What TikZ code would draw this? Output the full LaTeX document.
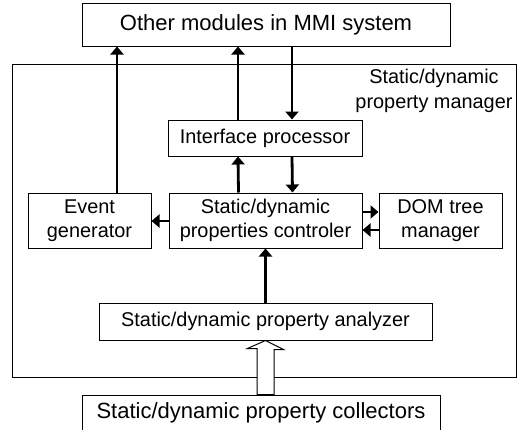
\documentclass[tikz,border=0pt]{standalone}
\usepackage{fontspec}
\setmainfont{Liberation Sans}
\usetikzlibrary{arrows.meta,calc}

\tikzset{
  box/.style={draw=black, line width=1pt, inner sep=0pt, align=center,
              font=\fontsize{19.9}{23.5}\selectfont},
  bigbox/.style={box, font=\fontsize{22}{25}\selectfont},
  arr/.style={line width=2.8pt, -{Triangle[width=13pt,length=8pt]}},
  hollow/.style={draw=black, line width=1pt, fill=white}
}

\begin{document}
\begin{tikzpicture}[x=1pt, y=-1pt]
  \useasboundingbox (0,0) rectangle (520,429);

  % outer container and its label
  \node[box, minimum width=504pt, minimum height=313pt] (mgr) at (264,220.5) {};
  \node[align=center, inner sep=0pt, font=\fontsize{19.9}{25.5}\selectfont]
       (mgrlabel) at (434,91) {Static/dynamic\\property manager};

  % boxes
  \node[bigbox, minimum width=368pt, minimum height=43pt] (top) at (266,24.5)
       {Other modules in MMI system};
  \node[box, minimum width=194pt, minimum height=36pt] (ip) at (265,138)
       {Interface processor};
  \node[box, minimum width=123pt, minimum height=55pt] (ev) at (89.5,220.5)
       {Event\\generator};
  \node[box, minimum width=193pt, minimum height=55pt] (ctl) at (265.5,220.5)
       {Static/dynamic\\properties controler};
  \node[box, minimum width=123pt, minimum height=55pt] (dom) at (440.5,220.5)
       {DOM tree\\manager};
  \node[box, minimum width=333pt, minimum height=37pt] (an) at (265.5,321.5)
       {Static/dynamic property analyzer};
  \node[bigbox, minimum width=358pt, minimum height=36pt] (co) at (261,413)
       {Static/dynamic property collectors};

  % connectors
  \draw[arr] ([xshift=27.5pt]ev.north) -- ([xshift=27.5pt]ev.north |- top.south);
  \draw[arr] ([xshift=-27pt]ip.north) -- ([xshift=-27pt]ip.north |- top.south);
  \draw[arr] ([xshift=27pt]ip.north |- top.south) -- ([xshift=27pt]ip.north);
  \draw[arr] ([xshift=-27pt]ctl.north) -- ([xshift=-27pt]ip.south);
  \draw[arr] ([xshift=27pt]ip.south) -- ([xshift=27pt]ctl.north);
  \draw[arr] ([yshift=-0.5pt]ctl.west) -- ([yshift=-0.5pt]ev.east);
  \draw[arr] ([yshift=8.5pt]ctl.east) -- ([yshift=8.5pt]dom.west);
  \draw[arr] ([yshift=-9.5pt]dom.west) -- ([yshift=-9.5pt]ctl.east);
  \draw[arr] (an.north) -- (ctl.south);

  % hollow input arrow from the collectors
  \draw[hollow] (an.south) -- ++(18,9) -- ++(-9.5,0) -- ([xshift=8.5pt]an.south |- co.north)
     -- ([xshift=-8.5pt]an.south |- co.north) -- ++(0,-46) -- ++(-9.5,0) -- cycle;
\end{tikzpicture}
\end{document}
